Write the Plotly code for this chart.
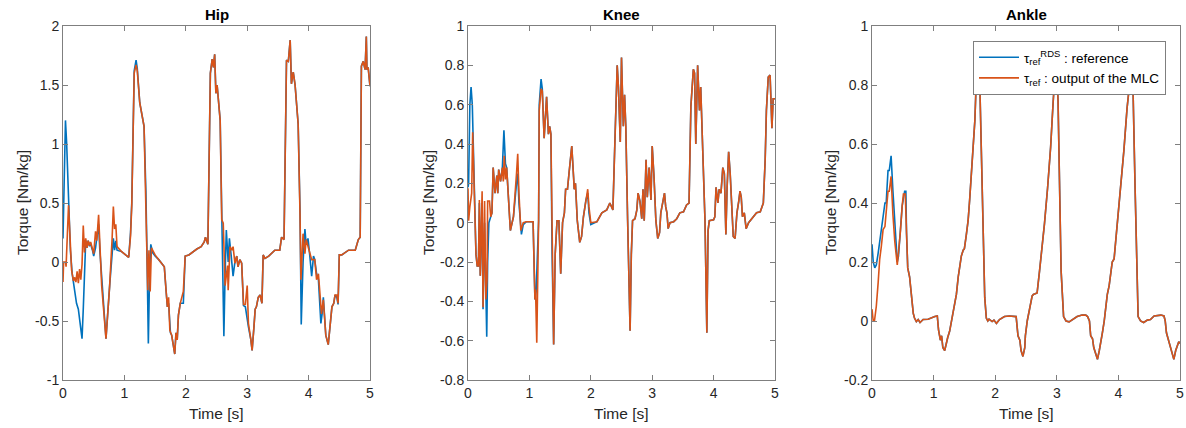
import plotly.graph_objects as go

# ---------------- data (time [s], torque [Nm/kg]) ----------------
hip_mlc = [(0.00,-0.17),(0.01,0.0),(0.04,0.0),(0.05,-0.04),(0.09,0.48),(0.14,-0.07),(0.17,-0.16),(0.19,-0.13),(0.21,-0.17),(0.23,-0.08),(0.25,-0.18),(0.27,-0.06),(0.29,-0.15),(0.31,-0.02),(0.33,0.31),(0.35,0.08),(0.37,0.2),(0.39,0.12),(0.41,0.18),(0.43,0.14),(0.45,0.17),(0.48,0.12),(0.50,0.07),(0.53,0.26),(0.55,0.18),(0.58,0.40),(0.60,0.1),(0.63,-0.2),(0.70,-0.65),(0.76,-0.2),(0.80,0.2),(0.82,0.47),(0.84,0.28),(0.86,0.32),(0.88,0.13),(0.95,0.09),(1.02,0.06),(1.07,0.04),(1.10,0.22),(1.12,0.48),(1.16,1.6),(1.19,1.67),(1.21,1.62),(1.25,1.35),(1.32,1.15),(1.35,0.55),(1.37,0.1),(1.38,-0.24),(1.40,0.1),(1.42,-0.25),(1.44,0.12),(1.50,0.06),(1.56,0.02),(1.60,-0.01),(1.65,-0.04),(1.68,-0.25),(1.70,-0.38),(1.72,-0.3),(1.74,-0.58),(1.77,-0.62),(1.80,-0.73),(1.82,-0.78),(1.84,-0.6),(1.86,-0.66),(1.88,-0.45),(1.91,-0.35),(1.96,-0.25),(1.99,0.05),(2.05,0.06),(2.12,0.09),(2.18,0.11),(2.25,0.13),(2.30,0.17),(2.32,0.21),(2.36,0.15),(2.40,1.6),(2.43,1.72),(2.45,1.65),(2.47,1.76),(2.49,1.43),(2.51,1.5),(2.56,1.2),(2.585,0.36),(2.61,0.33),(2.64,-0.2),(2.68,-0.03),(2.69,-0.24),(2.72,0.13),(2.75,0.1),(2.77,0.13),(2.80,-0.01),(2.83,0.05),(2.85,-0.04),(2.88,0.02),(2.91,-0.01),(2.94,-0.36),(2.97,-0.36),(3.00,-0.2),(3.02,-0.52),(3.06,-0.66),(3.08,-0.75),(3.11,-0.55),(3.13,-0.4),(3.15,-0.38),(3.18,-0.3),(3.21,-0.28),(3.24,-0.35),(3.26,0.06),(3.29,0.03),(3.35,0.05),(3.45,0.1),(3.53,0.1),(3.56,0.21),(3.60,0.19),(3.64,1.71),(3.67,1.7),(3.70,1.88),(3.72,1.51),(3.75,1.61),(3.78,1.5),(3.81,1.34),(3.83,1.17),(3.86,0.41),(3.875,-0.15),(3.91,0.24),(3.94,0.07),(3.96,0.19),(3.99,0.13),(4.02,0.07),(4.05,0.02),(4.10,0.02),(4.13,-0.15),(4.16,-0.1),(4.19,-0.32),(4.21,-0.44),(4.24,-0.32),(4.28,-0.62),(4.32,-0.7),(4.35,-0.52),(4.38,-0.38),(4.41,-0.35),(4.43,-0.28),(4.46,-0.28),(4.48,-0.35),(4.50,0.06),(4.54,0.06),(4.65,0.1),(4.76,0.1),(4.81,0.19),(4.84,0.21),(4.86,1.66),(4.89,1.7),(4.92,1.63),(4.94,1.91),(4.95,1.63),(4.97,1.65),(5.00,1.49)]

hip_rds = [(0.00,0.2),(0.02,0.9),(0.04,1.2),(0.06,1.0),(0.09,0.5),(0.12,0.1),(0.15,-0.1),(0.18,-0.2),(0.22,-0.35),(0.25,-0.4),(0.28,-0.55),(0.31,-0.65),(0.33,-0.4),(0.35,0.0),(0.37,0.18),(0.39,0.12),(0.41,0.18),(0.43,0.14),(0.45,0.15),(0.48,0.1),(0.50,0.05),(0.53,0.12),(0.55,0.2),(0.58,0.32),(0.60,0.1),(0.63,-0.15),(0.70,-0.65),(0.76,-0.2),(0.80,0.1),(0.82,0.2),(0.84,0.1),(0.86,0.18),(0.88,0.1),(0.95,0.09),(1.02,0.06),(1.07,0.04),(1.10,0.25),(1.12,0.5),(1.16,1.62),(1.19,1.71),(1.21,1.64),(1.25,1.35),(1.32,1.15),(1.35,0.6),(1.37,0.0),(1.39,-0.69),(1.41,-0.1),(1.43,0.15),(1.46,0.08),(1.50,0.05),(1.56,0.02),(1.60,-0.01),(1.65,-0.04),(1.68,-0.25),(1.70,-0.38),(1.72,-0.35),(1.75,-0.6),(1.77,-0.62),(1.80,-0.73),(1.82,-0.78),(1.84,-0.6),(1.86,-0.66),(1.88,-0.45),(1.91,-0.35),(1.96,-0.35),(1.99,0.05),(2.05,0.06),(2.12,0.09),(2.18,0.11),(2.25,0.13),(2.30,0.17),(2.32,0.21),(2.36,0.15),(2.40,1.6),(2.43,1.72),(2.45,1.65),(2.47,1.76),(2.49,1.43),(2.51,1.5),(2.56,1.2),(2.585,0.4),(2.60,-0.1),(2.62,-0.63),(2.64,-0.1),(2.66,0.27),(2.69,0.0),(2.71,0.2),(2.74,0.05),(2.77,-0.12),(2.80,0.0),(2.83,0.05),(2.85,-0.04),(2.88,0.02),(2.91,-0.01),(2.94,-0.37),(2.97,-0.38),(3.00,-0.5),(3.02,-0.55),(3.06,-0.66),(3.08,-0.75),(3.11,-0.55),(3.13,-0.4),(3.15,-0.38),(3.18,-0.3),(3.21,-0.28),(3.24,-0.35),(3.26,0.06),(3.29,0.03),(3.35,0.05),(3.45,0.1),(3.53,0.1),(3.56,0.21),(3.60,0.19),(3.64,1.71),(3.67,1.7),(3.70,1.88),(3.72,1.51),(3.75,1.61),(3.78,1.5),(3.81,1.34),(3.83,1.17),(3.86,0.45),(3.88,-0.53),(3.91,0.0),(3.94,0.28),(3.96,0.15),(3.99,0.2),(4.02,0.05),(4.05,-0.12),(4.08,0.05),(4.10,0.02),(4.13,-0.1),(4.16,-0.15),(4.20,-0.52),(4.22,-0.44),(4.24,-0.3),(4.28,-0.62),(4.32,-0.7),(4.35,-0.52),(4.38,-0.38),(4.41,-0.35),(4.43,-0.28),(4.46,-0.3),(4.48,-0.36),(4.50,0.06),(4.54,0.06),(4.65,0.1),(4.76,0.1),(4.81,0.19),(4.84,0.21),(4.86,1.66),(4.89,1.7),(4.92,1.63),(4.94,1.91),(4.95,1.63),(4.97,1.65),(5.00,1.49)]

knee_mlc = [(0.00,0.175),(0.01,0.01),(0.03,0.08),(0.06,0.15),(0.076,0.46),(0.09,0.28),(0.11,0.01),(0.13,-0.16),(0.15,-0.22),(0.17,-0.22),(0.185,0.115),(0.20,-0.27),(0.23,0.16),(0.245,-0.43),(0.27,0.11),(0.29,-0.39),(0.31,-0.29),(0.32,0.11),(0.35,0.11),(0.37,0.03),(0.39,0.05),(0.41,0.28),(0.44,0.15),(0.47,0.24),(0.485,0.15),(0.50,0.27),(0.53,0.21),(0.56,0.28),(0.575,0.21),(0.59,0.34),(0.61,0.22),(0.63,0.28),(0.69,-0.04),(0.74,0.03),(0.79,0.25),(0.81,0.35),(0.83,0.15),(0.86,-0.04),(0.90,0.0),(0.95,0.005),(1.06,0.005),(1.09,-0.39),(1.10,-0.34),(1.12,-0.61),(1.15,0.01),(1.16,0.57),(1.19,0.68),(1.21,0.67),(1.24,0.43),(1.28,0.64),(1.31,0.45),(1.33,0.49),(1.35,0.45),(1.37,-0.16),(1.395,-0.62),(1.42,-0.16),(1.45,0.01),(1.48,0.01),(1.51,-0.26),(1.54,0.0),(1.57,0.05),(1.59,0.17),(1.62,0.17),(1.645,0.25),(1.69,0.39),(1.72,0.23),(1.73,0.17),(1.75,0.2),(1.78,0.01),(1.82,-0.1),(1.85,-0.07),(1.88,0.03),(1.92,0.115),(1.95,0.17),(1.97,0.08),(2.00,0.0),(2.10,0.005),(2.18,0.05),(2.26,0.065),(2.31,0.1),(2.36,0.065),(2.39,0.39),(2.43,0.80),(2.45,0.69),(2.48,0.41),(2.50,0.84),(2.53,0.49),(2.55,0.65),(2.57,0.49),(2.60,0.01),(2.64,-0.55),(2.66,-0.16),(2.68,0.01),(2.72,0.02),(2.75,0.065),(2.77,0.15),(2.80,0.11),(2.83,0.02),(2.85,0.17),(2.87,0.01),(2.90,0.32),(2.92,0.13),(2.95,0.28),(2.98,0.115),(3.00,0.39),(3.03,0.23),(3.06,0.01),(3.09,-0.08),(3.12,-0.05),(3.14,0.05),(3.17,0.11),(3.20,0.15),(3.22,0.08),(3.24,0.05),(3.26,-0.03),(3.29,0.0),(3.35,0.005),(3.40,0.02),(3.45,0.05),(3.51,0.055),(3.56,0.09),(3.60,0.1),(3.63,0.59),(3.67,0.78),(3.69,0.76),(3.71,0.40),(3.74,0.80),(3.77,0.57),(3.79,0.69),(3.81,0.52),(3.83,0.32),(3.86,0.01),(3.89,-0.56),(3.91,-0.04),(3.93,0.01),(4.00,0.015),(4.02,0.03),(4.04,0.18),(4.07,0.10),(4.09,0.17),(4.12,0.15),(4.15,0.28),(4.175,0.25),(4.20,-0.06),(4.22,0.18),(4.245,0.36),(4.27,0.25),(4.29,0.115),(4.32,-0.07),(4.35,-0.08),(4.38,0.05),(4.41,0.11),(4.43,0.16),(4.45,0.13),(4.47,0.03),(4.50,0.05),(4.53,-0.03),(4.57,0.0),(4.62,0.02),(4.70,0.05),(4.76,0.055),(4.81,0.1),(4.84,0.32),(4.86,0.57),(4.89,0.74),(4.92,0.75),(4.95,0.48),(4.97,0.63),(5.00,0.63)]

knee_rds = [(0.00,0.18),(0.01,0.2),(0.03,0.6),(0.05,0.69),(0.07,0.6),(0.09,0.3),(0.11,0.01),(0.13,-0.16),(0.15,-0.22),(0.17,-0.22),(0.185,0.1),(0.20,-0.27),(0.23,0.1),(0.245,-0.44),(0.27,0.0),(0.29,-0.42),(0.305,-0.58),(0.32,-0.2),(0.34,0.0),(0.37,0.03),(0.39,0.05),(0.41,0.28),(0.44,0.15),(0.47,0.24),(0.485,0.15),(0.50,0.27),(0.53,0.21),(0.56,0.28),(0.585,0.47),(0.61,0.3),(0.63,0.28),(0.69,-0.04),(0.74,0.03),(0.79,0.2),(0.81,0.25),(0.83,0.1),(0.87,-0.06),(0.90,-0.01),(0.95,0.005),(1.06,0.005),(1.09,-0.39),(1.11,-0.35),(1.13,-0.2),(1.15,0.01),(1.16,0.6),(1.19,0.73),(1.21,0.68),(1.24,0.43),(1.28,0.64),(1.31,0.45),(1.33,0.49),(1.35,0.45),(1.37,-0.16),(1.395,-0.62),(1.42,-0.16),(1.45,0.01),(1.48,0.01),(1.51,-0.26),(1.54,0.0),(1.57,0.05),(1.59,0.17),(1.62,0.17),(1.645,0.25),(1.69,0.39),(1.72,0.23),(1.73,0.17),(1.75,0.2),(1.78,0.01),(1.82,-0.1),(1.85,-0.07),(1.88,0.03),(1.92,0.115),(1.95,0.15),(1.97,0.05),(2.00,-0.01),(2.10,0.005),(2.18,0.05),(2.26,0.065),(2.31,0.1),(2.36,0.065),(2.39,0.39),(2.43,0.80),(2.45,0.69),(2.48,0.41),(2.50,0.84),(2.53,0.49),(2.55,0.65),(2.57,0.49),(2.60,0.01),(2.64,-0.55),(2.66,-0.16),(2.68,0.01),(2.72,0.02),(2.75,0.065),(2.77,0.15),(2.80,0.11),(2.83,0.02),(2.85,0.17),(2.87,0.01),(2.90,0.32),(2.92,0.13),(2.95,0.28),(2.98,0.115),(3.00,0.39),(3.03,0.23),(3.06,0.01),(3.09,-0.08),(3.12,-0.05),(3.14,0.05),(3.17,0.11),(3.20,0.15),(3.22,0.08),(3.24,0.05),(3.26,-0.03),(3.29,0.0),(3.35,0.005),(3.40,0.02),(3.45,0.05),(3.51,0.055),(3.56,0.09),(3.60,0.1),(3.63,0.59),(3.67,0.78),(3.69,0.76),(3.71,0.40),(3.74,0.80),(3.77,0.57),(3.79,0.69),(3.81,0.52),(3.83,0.32),(3.86,0.01),(3.89,-0.56),(3.91,-0.04),(3.93,0.01),(4.00,0.015),(4.02,0.03),(4.04,0.18),(4.07,0.10),(4.09,0.17),(4.12,0.15),(4.15,0.28),(4.175,0.25),(4.20,-0.06),(4.22,0.18),(4.245,0.36),(4.27,0.25),(4.29,0.115),(4.32,-0.07),(4.35,-0.08),(4.38,0.05),(4.41,0.11),(4.43,0.16),(4.45,0.13),(4.47,0.03),(4.50,0.05),(4.53,-0.03),(4.57,0.0),(4.62,0.02),(4.70,0.05),(4.76,0.055),(4.81,0.1),(4.84,0.32),(4.86,0.57),(4.89,0.74),(4.92,0.75),(4.95,0.48),(4.97,0.63),(5.00,0.63)]

ankle_mlc = [(0.00,0.04),(0.02,0.0),(0.04,0.0),(0.07,0.05),(0.10,0.13),(0.125,0.21),(0.15,0.25),(0.18,0.31),(0.21,0.32),(0.23,0.36),(0.26,0.44),(0.28,0.44),(0.31,0.49),(0.34,0.36),(0.37,0.27),(0.41,0.19),(0.43,0.23),(0.46,0.3),(0.49,0.39),(0.51,0.43),(0.54,0.43),(0.56,0.3),(0.58,0.18),(0.61,0.15),(0.64,0.08),(0.67,0.026),(0.69,0.01),(0.72,-0.002),(0.75,0.005),(0.78,-0.005),(0.83,0.005),(0.91,0.006),(1.02,0.015),(1.06,0.017),(1.08,-0.03),(1.11,-0.065),(1.13,-0.05),(1.15,-0.09),(1.18,-0.1),(1.21,-0.065),(1.23,-0.055),(1.26,-0.035),(1.28,-0.01),(1.31,0.015),(1.34,0.05),(1.37,0.09),(1.40,0.15),(1.42,0.18),(1.45,0.22),(1.48,0.24),(1.50,0.245),(1.53,0.29),(1.56,0.34),(1.585,0.41),(1.61,0.48),(1.64,0.57),(1.67,0.68),(1.69,0.80),(1.72,0.9),(1.745,0.85),(1.775,0.57),(1.80,0.34),(1.83,0.08),(1.856,0.01),(1.88,0.0),(1.90,0.006),(1.95,-0.002),(1.98,0.003),(2.02,-0.008),(2.07,0.005),(2.15,0.015),(2.23,0.017),(2.34,0.015),(2.37,-0.05),(2.40,-0.065),(2.42,-0.1),(2.45,-0.12),(2.48,-0.09),(2.49,-0.05),(2.52,0.0),(2.56,0.05),(2.60,0.085),(2.62,0.09),(2.68,0.095),(2.72,0.17),(2.76,0.24),(2.80,0.33),(2.85,0.45),(2.90,0.59),(2.94,0.74),(2.97,0.86),(2.99,0.9),(3.02,0.75),(3.05,0.46),(3.07,0.17),(3.11,0.015),(3.15,0.0),(3.20,-0.003),(3.25,0.005),(3.33,0.015),(3.41,0.02),(3.47,0.02),(3.50,0.015),(3.53,0.0),(3.55,-0.05),(3.58,-0.06),(3.60,-0.09),(3.63,-0.11),(3.66,-0.13),(3.69,-0.1),(3.71,-0.08),(3.74,-0.04),(3.77,0.0),(3.80,0.06),(3.82,0.09),(3.85,0.12),(3.87,0.16),(3.90,0.2),(3.93,0.21),(3.98,0.32),(4.04,0.46),(4.09,0.58),(4.14,0.72),(4.17,0.78),(4.21,0.9),(4.24,0.76),(4.27,0.46),(4.30,0.14),(4.32,0.015),(4.36,0.0),(4.41,-0.005),(4.47,0.003),(4.52,0.005),(4.58,0.017),(4.69,0.02),(4.74,0.017),(4.76,0.0),(4.78,-0.04),(4.81,-0.065),(4.84,-0.08),(4.87,-0.11),(4.90,-0.13),(4.93,-0.1),(4.96,-0.08),(4.98,-0.07),(5.00,-0.075)]

ankle_rds = [(0.00,0.26),(0.02,0.2),(0.045,0.18),(0.07,0.19),(0.10,0.23),(0.125,0.27),(0.15,0.32),(0.18,0.35),(0.21,0.4),(0.23,0.4),(0.26,0.51),(0.28,0.51),(0.31,0.56),(0.34,0.44),(0.37,0.32),(0.41,0.2),(0.43,0.22),(0.46,0.3),(0.49,0.39),(0.53,0.44),(0.55,0.44),(0.56,0.3),(0.58,0.18),(0.61,0.15),(0.64,0.08),(0.67,0.026),(0.69,0.01),(0.72,-0.002),(0.75,0.005),(0.78,-0.005),(0.83,0.005),(0.91,0.006),(1.02,0.015),(1.06,0.017),(1.08,-0.03),(1.11,-0.065),(1.13,-0.05),(1.15,-0.09),(1.18,-0.1),(1.21,-0.065),(1.23,-0.055),(1.26,-0.035),(1.28,-0.01),(1.31,0.015),(1.34,0.05),(1.37,0.09),(1.40,0.15),(1.42,0.18),(1.45,0.22),(1.48,0.24),(1.50,0.245),(1.53,0.29),(1.56,0.34),(1.585,0.41),(1.61,0.48),(1.64,0.57),(1.67,0.68),(1.69,0.80),(1.72,0.9),(1.745,0.85),(1.775,0.57),(1.80,0.34),(1.83,0.08),(1.856,0.01),(1.88,0.0),(1.90,0.006),(1.95,-0.002),(1.98,0.003),(2.02,-0.008),(2.07,0.005),(2.15,0.015),(2.23,0.017),(2.34,0.015),(2.37,-0.05),(2.40,-0.065),(2.42,-0.1),(2.45,-0.12),(2.48,-0.09),(2.49,-0.05),(2.52,0.0),(2.56,0.05),(2.60,0.085),(2.62,0.09),(2.68,0.095),(2.72,0.17),(2.76,0.24),(2.80,0.33),(2.85,0.45),(2.90,0.59),(2.94,0.74),(2.97,0.86),(2.99,0.9),(3.02,0.75),(3.05,0.46),(3.07,0.17),(3.11,0.015),(3.15,0.0),(3.20,-0.003),(3.25,0.005),(3.33,0.015),(3.41,0.02),(3.47,0.02),(3.50,0.015),(3.53,0.0),(3.55,-0.05),(3.58,-0.06),(3.60,-0.09),(3.63,-0.11),(3.66,-0.13),(3.69,-0.1),(3.71,-0.08),(3.74,-0.04),(3.77,0.0),(3.80,0.06),(3.82,0.09),(3.85,0.12),(3.87,0.16),(3.90,0.2),(3.93,0.21),(3.98,0.32),(4.04,0.46),(4.09,0.58),(4.14,0.72),(4.17,0.78),(4.21,0.9),(4.24,0.76),(4.27,0.46),(4.30,0.14),(4.32,0.015),(4.36,0.0),(4.41,-0.005),(4.47,0.003),(4.52,0.005),(4.58,0.017),(4.69,0.02),(4.74,0.017),(4.76,0.0),(4.78,-0.04),(4.81,-0.065),(4.84,-0.08),(4.87,-0.11),(4.90,-0.13),(4.93,-0.1),(4.96,-0.08),(4.98,-0.07),(5.00,-0.075)]

panel_titles = ["Hip", "Knee", "Ankle"]
x_title = "Time [s]"
y_title = "Torque [Nm/kg]"
x_ticks = [0, 1, 2, 3, 4, 5]
x_ticklabels = ["0", "1", "2", "3", "4", "5"]
hip_yticks = [-1, -0.5, 0, 0.5, 1, 1.5, 2]
hip_yticklabels = ["-1", "-0.5", "0", "0.5", "1", "1.5", "2"]
knee_yticks = [-0.8, -0.6, -0.4, -0.2, 0, 0.2, 0.4, 0.6, 0.8, 1]
knee_yticklabels = ["-0.8", "-0.6", "-0.4", "-0.2", "0", "0.2", "0.4", "0.6", "0.8", "1"]
ankle_yticks = [-0.2, 0, 0.2, 0.4, 0.6, 0.8, 1]
ankle_yticklabels = ["-0.2", "0", "0.2", "0.4", "0.6", "0.8", "1"]

name_rds = "\u03c4<sub>ref</sub><sup>RDS</sup> : reference"
name_mlc = "\u03c4<sub>ref</sub> : output of the MLC"

BLUE = "#0072BD"
ORANGE = "#D95319"
FONT = "Liberation Sans, Arial, Helvetica, sans-serif"
W, H = 1186, 428

fig = go.Figure()

# (x0, x1) pixel extent of each plot box; y-title x position
panels = [
    (hip_rds, hip_mlc, hip_yticks, hip_yticklabels, (63, 370), 22),
    (knee_rds, knee_mlc, knee_yticks, knee_yticklabels, (468, 775), 428),
    (ankle_rds, ankle_mlc, ankle_yticks, ankle_yticklabels, (872, 1180), 830),
]
Y_TOP, Y_BOT = 26, 380

for i, (rds, mlc, yt, ytl, (x0, x1), ytx) in enumerate(panels):
    ax = "" if i == 0 else str(i + 1)
    fig.add_trace(go.Scatter(
        x=[p[0] for p in rds], y=[p[1] for p in rds], mode="lines",
        line=dict(color=BLUE, width=1.6), name=name_rds,
        showlegend=(i == 2), xaxis="x" + ax, yaxis="y" + ax))
    fig.add_trace(go.Scatter(
        x=[p[0] for p in mlc], y=[p[1] for p in mlc], mode="lines",
        line=dict(color=ORANGE, width=1.6), name=name_mlc,
        showlegend=(i == 2), xaxis="x" + ax, yaxis="y" + ax))
    common = dict(showline=True, linecolor="#7f7f7f", linewidth=1, mirror="ticks",
                  ticks="inside", ticklen=5, tickcolor="#7f7f7f", showgrid=False,
                  zeroline=False, automargin=False,
                  tickfont=dict(family=FONT, size=14, color="#262626"))
    fig.update_layout(**{
        "xaxis" + ax: dict(domain=[x0 / W, x1 / W], range=[0, 5], tickvals=x_ticks,
                           ticktext=x_ticklabels, anchor="y" + ax, **common),
        "yaxis" + ax: dict(domain=[1 - Y_BOT / H, 1 - Y_TOP / H], range=[yt[0], yt[-1]],
                           tickvals=yt, ticktext=ytl, anchor="x" + ax, **common),
    })
    fig.add_annotation(text="<b>" + panel_titles[i] + "</b>", xref="paper", yref="paper",
                       x=(x0 + x1) / 2 / W, y=1 - 15 / H, xanchor="center", yanchor="middle",
                       showarrow=False, font=dict(family=FONT, size=15, color="black"))
    fig.add_annotation(text=x_title, xref="paper", yref="paper",
                       x=(x0 + x1) / 2 / W, y=1 - 413 / H, xanchor="center", yanchor="middle",
                       showarrow=False, font=dict(family=FONT, size=15.5, color="#262626"))
    fig.add_annotation(text=y_title, xref="paper", yref="paper", textangle=-90,
                       x=ytx / W, y=1 - (Y_TOP + Y_BOT) / 2 / H, xanchor="center",
                       yanchor="middle", showarrow=False,
                       font=dict(family=FONT, size=15.5, color="#262626"))

fig.update_layout(
    width=W, height=H, margin=dict(l=0, r=0, t=0, b=0),
    paper_bgcolor="white", plot_bgcolor="white",
    font=dict(family=FONT, color="#262626"),
    legend=dict(x=1166 / W, xanchor="right", y=1 - 41 / H, yanchor="top",
                bgcolor="white", bordercolor="#7f7f7f", borderwidth=1,
                font=dict(family=FONT, size=13.5, color="black"),
                tracegroupgap=0, itemwidth=40),
)

fig.write_html("out.html", config={"displayModeBar": False},
               post_script="document.body.style.margin='0';document.body.style.overflow='hidden';")
